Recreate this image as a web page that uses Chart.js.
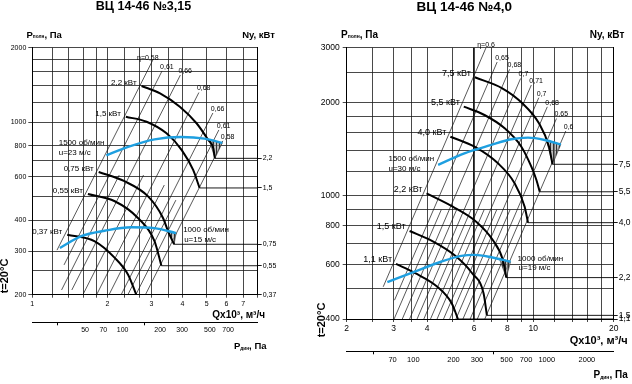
<!DOCTYPE html>
<html lang="ru">
<head>
<meta charset="utf-8">
<title>ВЦ 14-46</title>
<script src="https://cdn.jsdelivr.net/npm/chart.js@4.4.1/dist/chart.umd.min.js"></script>
<style>
  html, body { margin: 0; padding: 0; background: #fff; }
  #wrap { position: relative; width: 632px; height: 384px; }
  .panel { position: absolute; top: 0; width: 316px; height: 384px; }
</style>
</head>
<body>
<div id="wrap">
  <div class="panel" style="left:0"><canvas id="chart315" width="316" height="384"></canvas></div>
  <div class="panel" style="left:316px"><canvas id="chart40" width="316" height="384"></canvas></div>
</div>
<script>
const FONT = '"Liberation Sans", Arial, sans-serif';
const GRID = '#1a1a1a';

// ---------- ВЦ 14-46 №3,15 ----------
const flowGrid315 = [1, 1.2, 1.4, 1.6, 1.8, 2, 2.35, 2.7, 3, 3.5, 4, 5, 6, 7, 8];
const flowLabels315 = [1, 2, 3, 4, 5, 6, 7];
const presGrid315 = [200, 250, 300, 400, 500, 600, 700, 800, 1000, 1200, 1400, 1600, 1800, 2000];
const presLabels315 = [200, 300, 400, 600, 800, 1000, 2000];
const dynRange315 = [18.9, 1209];
const dynLabels315 = [50, 70, 100, 200, 300, 500, 700];
const dynMinor315 = [30, 150];
const powerNames315 = ['2,2', '1,5', '0,75', '0,55', '0,37'];
const powerAt315 = [713, 541, 320, 262, 200];
const power315 = [
  [[2.74, 1400], [3.25, 1307], [3.90, 1154], [4.55, 989], [5.07, 846], [5.31, 783], [5.39, 713]],
  [[2.37, 1051], [2.87, 1003], [3.45, 900], [3.97, 770], [4.41, 640], [4.68, 541]],
  [[1.845, 628], [2.34, 576], [2.91, 500], [3.34, 409], [3.50, 361], [3.70, 320]],
  [[1.67, 511], [2.14, 478], [2.65, 409], [3.09, 329], [3.29, 262]],
  [[1.38, 350], [1.78, 329], [2.14, 282], [2.42, 241], [2.61, 200]]
];
const speedNames315 = [['1500 об/мин', 'u=23 м/с'], ['1000 об/мин', 'u=15 м/с']];
const speed315 = [
  [[1.98, 733], [2.42, 793], [3.09, 851], [3.95, 870], [4.90, 857], [5.77, 823]],
  [[1.29, 309], [1.57, 345], [1.95, 363], [2.49, 375], [3.09, 372], [3.77, 355]]
];
const hatch315 = [
  [[5.12, 845], [5.77, 823], [5.39, 713]],
  [[3.50, 362], [3.77, 355], [3.70, 320]]
];
const etaNames315 = ['η=0,58', '0,61', '0,66', '0,68', '0,66', '0,61', '0,58'];
const eta315 = [
  [[3.04, 1783], [1.256, 303]],
  [[3.31, 1610], [1.34, 264]],
  [[3.92, 1550], [1.44, 209]],
  [[4.65, 1317], [1.81, 200]],
  [[5.29, 1088], [2.27, 200]],
  [[5.59, 929], [2.60, 200]],
  [[5.80, 839], [2.84, 200]],
  [[2.23, 610], [1.31, 209]],
  [[2.79, 610], [1.595, 200]],
  [[3.38, 556], [2.03, 200]],
  [[3.76, 483], [2.415, 200]]
];

// ---------- ВЦ 14-46 №4,0 ----------
const flowGrid40 = [2, 2.5, 3, 3.5, 4, 5, 6, 7, 8, 9, 10, 12, 14, 16, 18, 20];
const flowLabels40 = [2, 3, 4, 6, 8, 10, 20];
const presGrid40 = [400, 500, 600, 700, 800, 900, 1000, 1200, 1400, 1600, 1800, 2000, 2500, 3000];
const presLabels40 = [400, 600, 800, 1000, 2000, 3000];
const dynRange40 = [31.7, 3174];
const dynLabels40 = [70, 100, 200, 300, 500, 700, 1000, 2000];
const dynMinor40 = [50, 400];
const powerNames40 = ['7,5', '5,5', '4,0', '2,2', '1,5', '1,1'];
const powerAt40 = [1262, 1029, 818, 544, 411, 400];
const power40 = [
  [[6.04, 2408], [7.65, 2219], [9.10, 1985], [10.5, 1711], [11.45, 1438], [11.8, 1262]],
  [[5.49, 1936], [6.56, 1820], [7.81, 1649], [9.02, 1438], [9.83, 1240], [10.27, 1123], [10.57, 1029]],
  [[4.89, 1549], [6.02, 1438], [7.37, 1271], [8.51, 1096], [9.28, 921], [9.55, 818]],
  [[3.98, 1017], [4.99, 921], [6.11, 824], [7.05, 719], [7.69, 620], [7.92, 544]],
  [[3.44, 769], [4.17, 715], [5.10, 640], [5.89, 563], [6.51, 484], [6.70, 411]],
  [[3.06, 602], [3.61, 562], [4.37, 508], [4.95, 449], [5.22, 400]]
];
const speedNames40 = [['1500 об/мин', 'u=30 м/с'], ['1000 об/мин', 'u=19 м/с']];
const speed40 = [
  [[4.40, 1257], [5.52, 1369], [6.96, 1457], [8.27, 1520], [9.55, 1538], [11.03, 1512], [12.68, 1462]],
  [[2.84, 526], [3.58, 568], [4.51, 612], [5.37, 639], [6.02, 644], [6.96, 633], [8.22, 612]]
];
const hatch40 = [
  [[11.2, 1508], [12.68, 1462], [11.8, 1262]],
  [[7.45, 628], [8.22, 612], [7.92, 544]]
];
const etaNames40 = ['η=0,6', '0,65', '0,68', '0,7', '0,71', '0,7', '0,68', '0,65', '0,6'];
const eta40 = [
  [[6.65, 3000], [2.74, 508]],
  [[7.32, 2697], [3.02, 460]],
  [[8.15, 2555], [3.23, 400]],
  [[8.96, 2387], [3.67, 400]],
  [[9.83, 2274], [4.12, 400]],
  [[10.48, 2069], [4.61, 400]],
  [[11.28, 1934], [5.13, 400]],
  [[12.21, 1773], [5.80, 400]],
  [[13.23, 1616], [6.58, 400]],
  [[4.52, 900], [3.01, 400]],
  [[5.16, 900], [3.44, 400]],
  [[5.84, 900], [3.89, 400]],
  [[6.54, 900], [4.36, 400]],
  [[7.29, 900], [4.86, 400]],
  [[8.18, 900], [5.45, 400]],
  [[9.26, 900], [6.17, 400]]
];

Chart.defaults.font.family = FONT;
Chart.defaults.color = '#000';

function hatchPattern() {
  const c = document.createElement('canvas');
  c.width = 3; c.height = 3;
  const g = c.getContext('2d');
  g.fillStyle = 'rgba(150,150,150,0.6)';
  g.fillRect(0, 0, 3, 3);
  g.fillStyle = '#333';
  g.fillRect(0, 0, 1, 3);
  return g.createPattern(c, 'repeat');
}

// text made of pieces: [text, size, bold, dy]
function drawParts(ctx, x, y, parts, align) {
  const fontOf = (s, b) => (b ? 'bold ' : '') + s + 'px ' + FONT;
  let w = 0;
  parts.forEach(([t, s, b]) => { ctx.font = fontOf(s, b); w += ctx.measureText(t).width; });
  let cx = align === 'right' ? x - w : align === 'center' ? x - w / 2 : x;
  ctx.textAlign = 'left';
  parts.forEach(([t, s, b, dy]) => {
    ctx.font = fontOf(s, b);
    ctx.fillText(t, cx, y + (dy || 0));
    cx += ctx.measureText(t).width;
  });
}

function textPlugin(p) {
  return {
    id: 'texts',
    afterDraw(chart) {
      const { ctx, scales: { x, y } } = chart;
      const px = pt => x.getPixelForValue(pt[0]);
      const py = pt => y.getPixelForValue(pt[1]);
      const L = p.lay, fs = p.fs;
      ctx.save();
      ctx.fillStyle = '#000';
      ctx.textBaseline = 'middle';

      drawParts(ctx, L.title[0], L.title[1], [[p.title, fs.title, true]], 'center');
      drawParts(ctx, L.pTitle[0], L.pTitle[1], [['P', fs.axis, true], ['полн', fs.axis * 0.5, true, 2], [', Па', fs.axis, true]], 'left');
      drawParts(ctx, L.nTitle[0], L.nTitle[1], [['Ny, кВт', fs.axis, true]], 'right');
      drawParts(ctx, L.qTitle[0], L.qTitle[1], [['Qx10³, м³/ч', fs.q, true]], 'right');
      drawParts(ctx, L.dTitle[0], L.dTitle[1], [['P', fs.axis, true], ['дин', fs.axis * 0.5, true, 2], [', Па', fs.axis, true]], 'right');

      ctx.save();
      ctx.translate(L.temp[0], L.temp[1]);
      ctx.rotate(-Math.PI / 2);
      drawParts(ctx, 0, 0, [['t=20°C', fs.temp, true]], 'center');
      ctx.restore();

      // motor power labels at curve starts
      p.power.forEach((c, i) => {
        drawParts(ctx, px(c[0]) + L.kw[0], py(c[0]) + L.kw[1], [[p.powerNames[i] + ' кВт', fs.kw]], 'right');
      });

      // speed labels
      const hi = p.speed[0][0];
      ctx.font = fs.speed + 'px ' + FONT;
      const w1 = ctx.measureText(p.speedNames[0][0]).width;
      const lx = px(hi) + L.hi[0] - w1;
      drawParts(ctx, lx, py(hi) + L.hi[1], [[p.speedNames[0][0], fs.speed]], 'left');
      drawParts(ctx, lx, py(hi) + L.hi[1] + 10, [[p.speedNames[0][1], fs.speed]], 'left');
      const lo = p.speed[1][p.speed[1].length - 1];
      drawParts(ctx, px(lo) + L.lo[0], py(lo) + L.lo[1], [[p.speedNames[1][0], fs.speed]], 'left');
      drawParts(ctx, px(lo) + L.lo[0] + 1, py(lo) + L.lo[1] + 9.5, [[p.speedNames[1][1], fs.speed]], 'left');

      // efficiency labels at the upper ends of the lines
      p.etaNames.forEach((t, i) => {
        const top = p.eta[i][0];
        if (i === 0) drawParts(ctx, px(top) + L.eta0[0], py(top) + L.eta0[1], [[t, fs.eta]], 'center');
        else drawParts(ctx, px(top) - 2, py(top) - 4, [[t, fs.eta]], 'left');
      });
      ctx.restore();
    }
  };
}

function buildPanel(canvasId, p) {
  const pattern = hatchPattern();
  const pts = arr => arr.map(([x, y]) => ({ x, y }));
  const xMin = p.flowGrid[0], xMax = p.flowGrid[p.flowGrid.length - 1];
  const yMin = p.presGrid[0], yMax = p.presGrid[p.presGrid.length - 1];
  const line = (arr, color, width, order, extra) => Object.assign({
    data: pts(arr), showLine: true, borderColor: color, borderWidth: width,
    pointRadius: 0, fill: false, order: order
  }, extra || {});

  const ds = [];
  p.speed.forEach(c => ds.push(line(c, '#1e9fe0', 2.4, 1, { cubicInterpolationMode: 'monotone' })));
  p.power.forEach(c => {
    ds.push(line(c, '#000', 2, 2, { cubicInterpolationMode: 'monotone' }));
    const end = c[c.length - 1];
    ds.push(line([end, [xMax, end[1]]], '#000', 0.9, 3));
  });
  p.hatch.forEach(h => ds.push(line(h.concat([h[0]]), '#333', 0.6, 4, { fill: 'shape', backgroundColor: pattern })));
  p.eta.forEach(l => ds.push(line(l, '#111', 0.7, 5)));

  const tickFont = { size: p.fs.tick, family: FONT };
  const clear = 'rgba(0,0,0,0)';

  new Chart(document.getElementById(canvasId), {
    type: 'scatter',
    data: { datasets: ds },
    options: {
      responsive: false,
      animation: false,
      devicePixelRatio: 1,
      layout: { padding: { top: p.box.top, left: 0, right: 0, bottom: 0 } },
      plugins: { legend: { display: false }, tooltip: { enabled: false } },
      scales: {
        x: {
          type: 'logarithmic', position: 'bottom', weight: 0, min: xMin, max: xMax,
          afterBuildTicks: a => { a.ticks = p.flowGrid.map(v => ({ value: v })); },
          afterFit: a => { a.height = p.box.xH; },
          ticks: {
            autoSkip: false, maxRotation: 0, minRotation: 0, padding: 2, font: tickFont, color: '#000',
            callback: v => p.flowLabels.includes(v) ? String(v) : ''
          },
          grid: {
            color: GRID, tickColor: GRID, tickLength: 3, tickWidth: 0.8,
            lineWidth: c => (c.tick && c.tick.value === p.thickFlow) ? 1.8 : 0.8
          },
          border: { color: '#000', width: 1 }
        },
        xd: {
          type: 'logarithmic', position: 'bottom', weight: 1, min: p.dynRange[0], max: p.dynRange[1],
          afterBuildTicks: a => {
            a.ticks = p.dynLabels.concat(p.dynMinor).sort((m, n) => m - n).map(v => ({ value: v }));
          },
          afterFit: a => { a.height = p.box.xdH; },
          ticks: {
            autoSkip: false, maxRotation: 0, minRotation: 0, padding: p.box.dynPad,
            font: { size: p.fs.dyn, family: FONT }, color: '#000',
            callback: v => p.dynLabels.includes(v) ? String(v) : ''
          },
          grid: {
            drawOnChartArea: false, tickLength: 3, tickWidth: 1,
            tickColor: c => (c.tick && p.dynMinor.includes(c.tick.value)) ? '#000' : clear
          },
          border: { color: '#000', width: 1 }
        },
        y: {
          type: 'logarithmic', position: 'left', min: yMin, max: yMax,
          afterBuildTicks: a => { a.ticks = p.presGrid.map(v => ({ value: v })); },
          afterFit: a => { a.width = p.box.yW; },
          ticks: {
            autoSkip: false, padding: p.box.yPad, font: tickFont, color: '#000',
            callback: v => p.presLabels.includes(v) ? String(v) : ''
          },
          grid: {
            color: GRID, lineWidth: 0.8, tickLength: 4, tickWidth: 0.8,
            tickColor: c => (c.tick && p.presLabels.includes(c.tick.value)) ? GRID : clear
          },
          border: { color: '#000', width: 1 }
        },
        y2: {
          type: 'logarithmic', position: 'right', min: yMin, max: yMax,
          afterBuildTicks: a => { a.ticks = p.powerAt.map(v => ({ value: v })); },
          afterFit: a => { a.width = p.box.y2W; },
          ticks: {
            autoSkip: false, padding: 1, font: tickFont, color: '#000',
            callback: v => p.powerNames[p.powerAt.indexOf(v)]
          },
          grid: { drawOnChartArea: false, tickLength: 4, tickWidth: 0.9, tickColor: '#000' },
          border: { color: '#000', width: 1 }
        }
      }
    },
    plugins: [textPlugin(p)]
  });
}

buildPanel('chart315', {
  title: 'ВЦ 14-46 №3,15',
  flowGrid: flowGrid315, flowLabels: flowLabels315,
  presGrid: presGrid315, presLabels: presLabels315,
  dynRange: dynRange315, dynLabels: dynLabels315, dynMinor: dynMinor315,
  powerNames: powerNames315, powerAt: powerAt315, power: power315,
  speedNames: speedNames315, speed: speed315, hatch: hatch315,
  etaNames: etaNames315, eta: eta315,
  thickFlow: null,
  box: { top: 47.7, yW: 32.3, y2W: 58.3, xH: 27.6, xdH: 61.7, yPad: 2, dynPad: 1 },
  fs: { tick: 7, dyn: 7, kw: 8, speed: 8, eta: 7, axis: 9.5, q: 10, title: 12.5, temp: 11 },
  lay: {
    title: [143.5, 7], pTitle: [26.5, 35], nTitle: [275, 35], qTitle: [265, 315.5],
    dTitle: [266.5, 346.5], temp: [5, 276],
    kw: [-5, -3], hi: [-2, -13], lo: [7, -3], eta0: [-5, -2]
  }
});

buildPanel('chart40', {
  title: 'ВЦ 14-46 №4,0',
  flowGrid: flowGrid40, flowLabels: flowLabels40,
  presGrid: presGrid40, presLabels: presLabels40,
  dynRange: dynRange40, dynLabels: dynLabels40, dynMinor: dynMinor40,
  powerNames: powerNames40, powerAt: powerAt40, power: power40,
  speedNames: speedNames40, speed: speed40, hatch: hatch40,
  etaNames: etaNames40, eta: eta40,
  thickFlow: 6,
  box: { top: 47.7, yW: 30.7, y2W: 18.3, xH: 32.3, xdH: 32.7, yPad: 3, dynPad: 1.5 },
  fs: { tick: 8.5, dyn: 7.5, kw: 9, speed: 8, eta: 7, axis: 10, q: 11, title: 13.5, temp: 11 },
  lay: {
    title: [148.3, 7], pTitle: [25, 35], nTitle: [308.3, 35], qTitle: [311.7, 340.5],
    dTitle: [311.7, 375.5], temp: [6, 320],
    kw: [-4, -4], hi: [-4, -6.5], lo: [7, -3], eta0: [0, -3]
  }
});
</script>
</body>
</html>
